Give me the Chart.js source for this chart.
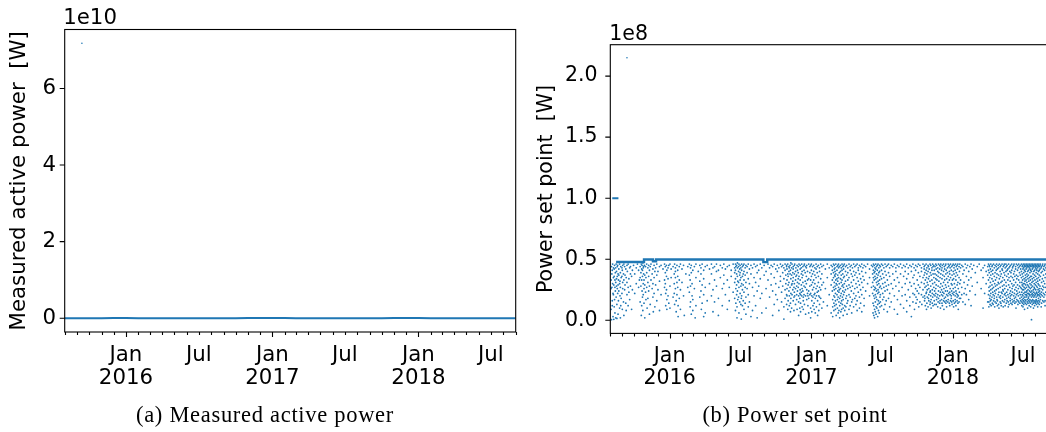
<!DOCTYPE html>
<html>
<head>
<meta charset="utf-8">
<script src="https://cdn.jsdelivr.net/npm/chart.js@4.4.1/dist/chart.umd.min.js"></script>
<style>
  html, body { margin: 0; padding: 0; background: #fff; }
  #stage { position: relative; width: 1046px; height: 432px; overflow: hidden; }
  #stage canvas { position: absolute; top: 0; }
  #cvA { left: 0; }
  #cvB { left: 530px; }
  .caption {
    position: absolute; top: 404px; width: 530px; text-align: center;
    font-family: "Liberation Serif", serif; font-size: 22.5px; line-height: 22.5px;
    letter-spacing: 0.7px; color: #000; white-space: nowrap;
  }
</style>
</head>
<body>
<div id="stage">
  <canvas id="cvA" width="530" height="432"></canvas>
  <canvas id="cvB" width="530" height="432"></canvas>
  <div class="caption" style="left:0">(a) Measured active power</div>
  <div class="caption" style="left:530px">(b) Power set point</div>
</div>
<script>
// Time axis: days since 1 Aug 2015, one tick per month start.
const monthStartDays = [0, 31, 61, 92, 122, 153, 184, 213, 244, 274, 305, 335, 366, 397, 427, 458, 488,
  519, 550, 578, 609, 639, 670, 700, 731, 762, 792, 823, 853, 884, 915, 943, 974, 1004, 1035, 1065, 1096, 1127];
const monthTickLabels = ['', '', '', '', '', 'Jan\n2016', '', '', '', '', '', 'Jul', '', '', '', '', '',
  'Jan\n2017', '', '', '', '', '', 'Jul', '', '', '', '', '', 'Jan\n2018', '', '', '', '', '', 'Jul', '', ''];
const majorTickLabels = ['Jan\n2016', 'Jan\n2017', 'Jan\n2018'];

// Measured active power: monthly level in MW, plus the corrupted spike in W.
const measuredMonthlyMW = [31, 28, 24, 30, 33, 35, 32, 29, 27, 22, 19, 21, 24, 26, 30, 34, 36,
  35, 33, 30, 27, 23, 20, 22, 25, 28, 31, 34, 36, 35, 32, 30, 26, 23, 21, 20, 24, 27];
const measuredSpikes = [[43, 7.18e10]];
const measuredTicks = [0, 2e10, 4e10, 6e10];

// Power set point: upper limit (held until the next change) and early 100 MW period, in MW.
const ceilingDays = [15, 87, 110, 118, 395, 405, 1127];
const ceilingMW = [47.8, 49.8, 48.4, 49.8, 47.6, 49.8, 49.8];
const earlyDays = [5, 21];
const earlyMW = [100, 100];
const setpointSpikes = [[43, 215]];
const setpointTicks = [0, 0.5e8, 1e8, 1.5e8, 2e8];

// Set point samples below the limit: [day, [MW, ...]]
const setpoints2015 = [
  [2,[26,9,33]],[3,[44,0.5]],[4,[38,27]],[5,[12,41,16]],[6,[46,30]],[7,[3,22]],[8,[35,21,43]],[9,[29,0.8]],
  [10,[42,11,36]],[11,[45,17]],[12,[33,27,6]],[13,[39,24]],[14,[43,2,31]],[15,[46,19]],[16,[34,28,40]],
  [17,[1.5,13]],[18,[44,36,26]],[19,[22,45]],[20,[38,5,29]],[21,[16,33]],[22,[42,24,37]],[24,[10,30,46]],
  [25,[32,20]],[26,[39,2,27]],[27,[12,44]],[28,[35,18]],[30,[43,22,36]],[31,[9,41]],[32,[26,45,31]],
  [34,[38,15]],[35,[4,46,33]],[37,[25,44]],[38,[37,29]],[40,[14,42]],[41,[35,8]],[43,[45,21,31]],[44,[40]],
  [46,[27,12,46]],[48,[34,23]],[50,[43,17]],[52,[44,28,38]],[55,[36,9]],[57,[41,25]],[60,[45]],[63,[38,22]],
  [67,[43,30]],[70,[46]],[73,[41,27]],[75,[33]],[77,[44,35,15]],[79,[39,28]],[80,[46,4]],[81,[33,12,42]],
  [82,[24,45]],[83,[36,19,41]],[84,[47,8]],[85,[30,43,21]],[86,[38,44]],[87,[33,26,14]],[88,[45]],
  [89,[37,29,2]],[91,[44,23]],[92,[35,17]],[94,[46,39,27]],[95,[10]],[97,[43,31,18]],[99,[45,36,24]],
  [101,[41,28,5]],[103,[44,13]],[105,[33,46]],[108,[38,26]],[110,[42,30,19]],[111,[7]],[113,[45,35,22]],
  [115,[40,11]],[117,[43,29]],[120,[46,37,16]],[123,[40,25]],[127,[44,32,8]],[131,[45,21]],[136,[42]],
  [140,[46,33,27]],[142,[44,30,39]],[143,[22,12]],[145,[45,36,25]],[146,[17,41,9]],[149,[43,34,20]],[151,[14,45]]
];
const setpoints2016 = [
  [154,[46,28,10]],[157,[42,35]],[162,[44,19]],[165,[38,30,22]],[166,[46,13]],[168,[43,35,26,40]],[170,[16,7]],
  [172,[45,31,21]],[174,[41,36,27]],[175,[12,3]],[178,[44,33,18]],[181,[46,25,9]],[185,[42,31]],[189,[45,20]],
  [191,[4]],[195,[38]],[200,[44,27]],[204,[46,37,23]],[206,[11,33]],[207,[43,28,15]],[209,[45,39,5]],
  [211,[20,30]],[213,[41,8,17]],[217,[44,26]],[219,[2]],[221,[46,35,12]],[227,[40]],[231,[45,32,19]],
  [234,[43,38,24]],[235,[9]],[237,[46,29,14]],[241,[41,34,21,3]],[245,[44,27,6]],[250,[45,16]],[256,[42,30]],
  [261,[46,38,20]],[265,[43,25,7]],[269,[44,33,15]],[274,[46,40,28]],[279,[41,18,4]],[284,[45,35]],
  [289,[43,26,12]],[293,[46,37,30]],[297,[42,21]],[302,[44,33,9]],[307,[45,27,16]],[312,[41,36]],[317,[46,23]],
  [321,[43,39,31,18]],[323,[46,41,34,8]],[324,[26,14,44]],[326,[45,38,29,21]],[327,[11,2]],[328,[47,43,36,24]],
  [329,[17,32]],[331,[44,40,31,19]],[332,[6,46,27]],[334,[37,15,42]],[335,[45,39,33,22]],[337,[43,35,28,13]],
  [338,[18,1]],[339,[46,41,30,20]],[341,[44,36,25,12]],[343,[45,38,29,16]],[345,[46,33,23,9,40]],
  [348,[43,37,27,14]],[350,[45,31,19,5]],[353,[44,39,26]],[356,[46,34,21,11]],[359,[42,30,15]],[363,[45,38,3]],
  [367,[43,27,8]],[371,[46,35,20]],[375,[44,31,12]],[379,[45,39,24,2]],[383,[41,28]],[387,[46,34,18]],
  [391,[43,22,6]],[397,[45,37]],[402,[40,26,10]],[407,[46,33]],[411,[43,19]],[415,[45,38,29]],[419,[44,24,4]],
  [423,[46,35,13]],[427,[42,30,21]],[431,[45,40,17]],[435,[43,27,8]],[439,[46,36,32]],[442,[44,23,15]],
  [445,[45,39,28]],[448,[43,34,11,1]],[451,[46,41,25,18]],[453,[37,30]],[455,[44,21,13,45]],[456,[42,33,26,20]],
  [458,[38,9,46]],[459,[36,29,16]],[461,[44,40,31,24]],[462,[20,12,43]],[464,[45,38,27]],[465,[14,7,41]],
  [466,[47,34,22,18]],[468,[43,37,29,10]],[469,[21,30,46]],[471,[39,32,25]],[472,[44,42,35,16]],[474,[27,19,8]],
  [475,[45,38,30,23]],[476,[20,46]],[478,[40,33,26,13]],[479,[36,43]],[481,[37,28,21,17]],[482,[9,45]],
  [483,[41,31,24]],[485,[44,39,34,27]],[486,[20,15,4]],[487,[46,36,30]],[489,[22,18,10]],[490,[45,42,33,25]],
  [491,[21,14,7]],[493,[43,38,29,23]],[494,[20,46]],[495,[40,35,26,11]],[497,[44,37,31,24]],[498,[19,16,9]],
  [500,[45,41,28,21]],[501,[13,46]],[503,[39,32,27]],[504,[20,5,44]],[506,[43,36,30]],[507,[25,17,45]],
  [509,[40,33,22]],[510,[20,12]],[512,[46,34,24,18,6]],[515,[44,39,28,21]],[517,[45,33,22,10,2]]
];
const setpoints2017 = [
  [519,[46,41,36,29]],[520,[20,16,7]],[522,[44,38,31,25]],[523,[19,12]],[525,[45,40,33,27]],[526,[21,14,9]],
  [528,[43,37,30,22]],[529,[18,6]],[531,[46,42,35,26]],[532,[20,11]],[534,[44,39,28,23]],[535,[16,4]],
  [537,[45,36,31,24]],[538,[20,8]],[540,[43,40,27,19,13]],[543,[46,34,25,18]],[546,[44,38,29,10]],
  [550,[45,31,15]],[555,[42,26]],[560,[46,35,12]],[565,[43,21]],[570,[45,38,29,6]],[573,[44,41,33,24]],
  [574,[17,11,3]],[576,[46,39,35,27]],[577,[14,8,20]],[578,[45,42,31,25]],[579,[19,12,37]],[580,[43,40,36,28]],
  [581,[22,16,9]],[582,[46,38,33,26]],[583,[13,4,30]],[585,[44,41,34,29,21]],[586,[17,10]],[587,[45,37,32,24]],
  [588,[19,6]],[589,[46,43,35,27]],[590,[23,15,8]],[591,[44,39,30,25]],[592,[18,12,2]],[594,[45,40,34,26,20]],
  [595,[14,7]],[596,[43,37,31,22]],[597,[16,9]],[598,[46,41,33,28]],[599,[19,13]],[600,[44,38,29,24]],
  [601,[17,10,4]],[602,[45,42,35,27,21]],[604,[46,36,30,23]],[605,[12,8]],[607,[44,40,32,25]],[608,[18,11]],
  [610,[45,37,28,20]],[611,[14,5]],[613,[43,39,33,26,16]],[616,[46,35,29,21,9]],[619,[44,41,27,19,12]],
  [622,[45,38,31,24]],[623,[15,6]],[625,[43,36,28,17]],[628,[46,40,33,22,11]],[631,[44,37,26,18]],
  [634,[45,39,30,20,13]],[637,[46,35,27,16,8]],[640,[43,41,32,23]],[643,[45,38,29,19,10]],[646,[44,34,25,14]],
  [649,[46,40,31,21,7]],[652,[43,36,27]],[655,[45,33,18,12]],[659,[44,39,24]],[664,[46,30]],[669,[42,35,20]],
  [674,[45,27]],[677,[44,38,31,22]],[678,[14,6]],[679,[46,41,35,28]],[680,[20,12,4]],[681,[45,39,33,25]],
  [682,[18,9,2]],[683,[43,40,36,27]],[684,[21,15,7]],[685,[46,42,34,26]],[686,[19,11,5]],[687,[44,38,31,24]],
  [688,[17,10]],[689,[45,41,35,29]],[690,[22,13,3]],[691,[46,37,32,25]],[692,[16,8]],[693,[43,39,30,23]],
  [694,[14,6]],[695,[45,40,33,27]],[696,[19,11]],[697,[44,36,28,21,15]],[700,[46,41,34,26,12]],
  [703,[45,38,30,22,17]],[706,[43,35,27,19,9]],[709,[46,40,31,24,13]],[712,[44,37,28,16]],[715,[45,33,25,7]],
  [718,[46,39,29,18]],[721,[43,36,22,11]],[725,[45,30,15]],[729,[44,38,26]],[733,[46,33,20,9]],[737,[43,40,28]],
  [741,[45,35,17,5]],[745,[44,31,24]],[749,[46,38,13]],[753,[43,27,20]],[757,[45,36,10]],[761,[44,40,30,21]],
  [765,[46,34,16,7]],[769,[43,38,25]],[773,[45,31,19,12]],[777,[44,40,28,3]],[781,[46,35,22,15]],
  [784,[43,37,30]],[785,[21,9]],[788,[45,41,26]],[789,[19,14]],[792,[44,33,24,17]],[795,[46,39,29]],
  [796,[22,11]],[799,[45,36,27,15]],[803,[43,40,31,21]],[804,[13]],[807,[46,35,25,19]],
  [810,[44,42,37,30]],[811,[20,16]],[812,[45,39,27,18]],[813,[33,12]],[815,[46,41,28,22]],[816,[35,9,23]],
  [817,[43,38,14]],[818,[31,25,19]],[820,[45,40,29,11]],[821,[34,18,44]],[822,[21,16,26]],[823,[42,36]],
  [825,[46,32,23,13]],[826,[39,24,15]],[827,[20,45,28]],[828,[37,17,10]],[830,[43,41,33]],[831,[22,14,25]],
  [832,[46,30,19]],[833,[38,12,44]],[835,[45,35,21,27]],[836,[16,41]],[837,[31,24,13]],[838,[44,38,20]],
  [840,[46,34,22,26]],[841,[42,13,29]],[842,[37,17,45]],[843,[19,33]],[845,[43,40,21,11]],[846,[28,15,36]],
  [847,[46,24,18]],[848,[39,32]],[850,[45,42,20,14]],[851,[27,35,16]],[852,[44,23,10]],[853,[38,30,46]],
  [855,[41,21,17,25]],[856,[34,14,43]],[857,[45,28,12]],[858,[37,20,23]],[860,[46,40,31,16]],[861,[22,26,9]],
  [862,[44,36,18]],[863,[42,33,15]],[865,[45,29,19,24]],[866,[38,14,46]],[867,[41,27,16]],[868,[34,21,11]],
  [870,[43,39,24]],[871,[20,15,31]],[872,[46,36,17]],[873,[44,28,22]],[875,[45,40,33,14]],[876,[23,12,38]],
  [877,[21,26,43]],[878,[35,16,46]],[880,[41,30,20,18]],[881,[44,24,15]],[882,[37,13,29]],[883,[45,22,33]]
];
const setpoints2018 = [
  [885,[46,40,16,26]],[886,[21,34,11]],[887,[43,38,23]],[888,[45,14,30]],[890,[41,20,27,17]],[891,[46,36,15]],
  [892,[33,24,12]],[893,[44,22,39]],[895,[45,29,16,19]],[896,[37,42,21]],[897,[31,14,46]],[898,[26,20,9]],
  [900,[44,35,15]],[901,[40,23,18]],[902,[46,30]],[904,[43,18,33]],[907,[45,27,21]],[910,[38,15,44]],
  [913,[41,31,22]],[916,[46,26,13]],[919,[43,36,21]],[922,[45,29]],[925,[40,17,33]],[928,[44,24]],
  [931,[46,35,12]],[934,[42,28]],[938,[45]],[942,[39,21]],[947,[44,31]],[952,[46]],[957,[41,26]],
  [962,[43,35,10]],[966,[45,22]],[970,[40,30]],[974,[44,37,15]],
  [976,[46,41,33,21]],[977,[27,15,11]],[978,[45,39,24]],[979,[35,18,44]],[980,[20,28,13]],[981,[42,31,16]],
  [982,[46,25,22,37]],[983,[40,17,12]],[985,[44,34,19,29]],[986,[26,14,45]],[987,[38,41,23]],[988,[21,13,32]],
  [989,[46,27,16]],[991,[43,36,20,18]],[992,[30,24,11]],[993,[45,39,15]],[994,[22,33,28]],[996,[44,41,14,25]],
  [997,[35,19,46]],[998,[29,17,38]],[999,[42,16,12]],[1001,[45,31,21,26]],[1002,[37,13,43]],[1003,[23,30,10]],
  [1004,[46,34,19]],[1006,[40,15,27,44]],[1007,[20,36,18]],[1008,[45,31,14]],[1009,[38,23,12]],
  [1011,[46,42,22,32]],[1012,[28,16,41]],[1013,[19,35,25]],[1014,[44,24,11]],[1016,[45,39,15,29]],
  [1017,[21,33,46]],[1018,[37,26,17]],[1019,[43,22,12]],[1021,[46,40,20,31]],[1022,[14,28,44]],
  [1023,[36,23,18]],[1024,[45,41,16]],[1026,[42,33,21,25]],[1027,[15,38,11]],[1028,[46,29,19]],
  [1029,[35,13,43]],[1031,[44,40,22,27]],[1032,[16,32,18]],[1033,[45,24,20]],[1034,[39,14,36]],
  [1036,[46,41,21,30]],[1037,[17,26,13]],[1038,[43,35,23]],[1039,[44,15,28]],[1041,[45,38,20,33]],
  [1042,[16,29,46]],[1043,[22,40,18]],[1044,[36,14,25]],[1046,[44,42,19,31]],[1047,[15,27,10]],
  [1048,[46,37,21]],[1049,[34,17,24]],[1051,[45,41,22,29]],[1052,[13,36,16]],[1053,[43,20,26]],
  [1054,[46,15,33]],[1056,[39,44,23,28]],[1057,[14,31,18]],[1058,[45,21,37]],[1059,[27,16,42]],
  [1061,[46,40,35,19,26]],[1062,[15,31,23,12]],[1063,[44,38,21,29,17]],[1064,[45,14,33,25]],
  [1065,[42,36,20,28,11]],[1066,[46,16,30,18]],[1067,[43,39,22,25,13]],[1068,[44,15,34,27]],
  [1069,[45,41,19,30,9]],[1070,[46,17,32,23]],[1071,[40,37,21,26,14]],[1072,[44,16,29,35]],
  [1073,[45,42,23,33,19]],[1074,[46,13,27,21]],[1075,[43,38,20,31,24]],[1076,[44,15,36,17]],
  [1077,[45,40,22,29,10]],[1078,[46,14,34,25]],[1079,[41,37,19,28,18]],[1080,[44,16,32,22]],
  [1081,[45,43,21,27,12]],[1082,[46,15,35,24]],[1083,[42,39,20,30,17]],[1084,[44,14,26,33]],
  [1085,[45,41,23,36,11]],[1086,[46,16,29,21]],[1087,[40,36,19,27,0.5]],[1088,[44,15,31,24]],
  [1089,[45,42,22,34,13]],[1090,[46,17,28,20]],[1091,[43,38,21,32,16]],[1092,[44,14,25,10]],
  [1093,[45,40,23,35,19]],[1094,[46,15,30,27]],[1095,[41,37,20,26,12]],[1096,[44,16,33,22]],
  [1097,[45,43,21,29,14]],[1098,[46,15,36,25]],[1099,[42,39,19,31,17]],[1100,[44,13,28,23]],
  [1101,[45,41,22,34,16]],[1102,[46,15,27,20]],[1103,[43,38,21,32,11]],[1104,[44,14,25,30]],
  [1105,[45,40,23,35,18]],[1106,[46,16,29,21]],[1107,[41,37,20,26,13]],[1108,[44,15,33,24]],
  [1109,[45,42,22,28]],[1110,[46,17,36,19]],[1112,[43,39,21,26,11]],[1113,[44,14,31,23]],[1115,[45,40,20,34]],
  [1116,[46,16,28,25]],[1118,[42,37,22,32]],[1119,[44,15,27,19]],[1121,[45,41,21,30]],[1122,[46,16,35,12]],
  [1124,[43,38,23,27]],[1126,[44,15,33,20]]
];

const BLUE = '#1f77b4';
const MW = 1e6;

Chart.defaults.font.family = '"DejaVu Sans", sans-serif';
Chart.defaults.color = '#000';

const toPoints = (days, vals, k) => days.map((d, i) => ({ x: d, y: vals[i] * k }));
const fromGroups = groups => groups.flatMap(([d, vals]) => vals.map(v => ({ x: d, y: v * MW })));

// Frame, month ticks, value ticks and the exponent label above the y axis.
const axisDecor = {
  id: 'axisDecor',
  afterDraw(chart, args, o) {
    const { ctx, chartArea: a, scales: { x, y } } = chart;
    ctx.save();
    ctx.strokeStyle = '#000';
    ctx.lineWidth = 1.1;
    ctx.strokeRect(a.left, a.top, a.right - a.left, a.bottom - a.top);
    ctx.beginPath();
    monthStartDays.forEach((d, i) => {
      const px = Math.round(x.getPixelForValue(d)) + 0.5;
      const len = majorTickLabels.includes(monthTickLabels[i]) ? o.major : o.minor;
      ctx.moveTo(px, a.bottom);
      ctx.lineTo(px, a.bottom + len);
    });
    y.ticks.forEach(t => {
      const py = y.getPixelForValue(t.value);
      ctx.moveTo(a.left - o.major, py);
      ctx.lineTo(a.left, py);
    });
    ctx.stroke();
    ctx.fillStyle = '#000';
    ctx.font = o.fontSize + 'px "DejaVu Sans"';
    ctx.textBaseline = 'alphabetic';
    ctx.textAlign = 'left';
    ctx.fillText(o.exponent, a.left + o.expDx, a.top + o.expDy);
    ctx.restore();
  }
};

function buildChart(canvas, c) {
  return new Chart(canvas, {
    type: 'scatter',
    data: { datasets: c.datasets },
    options: {
      responsive: false,
      animation: false,
      events: [],
      layout: { padding: { top: c.top, right: c.right, left: 0, bottom: 0 } },
      plugins: {
        legend: { display: false },
        tooltip: { enabled: false },
        axisDecor: { major: 5, minor: 3, fontSize: c.fontSize, exponent: c.exponent, expDx: c.expDx, expDy: c.expDy }
      },
      scales: {
        x: {
          type: 'linear', min: 0, max: 1127,
          grid: { display: false, drawTicks: false },
          border: { display: false },
          afterBuildTicks: s => { s.ticks = monthStartDays.map(v => ({ value: v })); },
          afterFit: s => { s.height = 432 - c.bottom; },
          ticks: {
            autoSkip: false, maxRotation: 0, minRotation: 0, padding: c.xPad,
            font: { size: c.fontSize, lineHeight: c.xLine / c.fontSize },
            callback: (v, i) => {
              const l = monthTickLabels[i] || '';
              return l.includes('\n') ? l.split('\n') : l;
            }
          }
        },
        y: {
          type: 'linear', min: c.yMin, max: c.yMax,
          grid: { display: false, drawTicks: false },
          border: { display: false },
          afterBuildTicks: s => { s.ticks = c.yTicks.map(v => ({ value: v })); },
          afterFit: s => { s.width = c.yWidth; },
          ticks: {
            padding: c.yPad,
            font: { size: c.fontSize },
            callback: v => (v / c.scale).toFixed(c.decimals)
          },
          title: {
            display: true, text: c.yTitle,
            font: { size: c.fontSize },
            padding: { top: c.titlePad, bottom: 0 }
          }
        }
      }
    },
    plugins: [axisDecor]
  });
}

// (a) Measured active power
buildChart(document.getElementById('cvA'), {
  top: 29.5, bottom: 332, right: 530 - 515.7, yWidth: 64.7,
  yMin: -0.359e10, yMax: 7.539e10, yTicks: measuredTicks, scale: 1e10, decimals: 0,
  fontSize: 21.3, xLine: 23.3, xPad: 11.8, yPad: 8.7, titlePad: 6.4,
  yTitle: 'Measured active power  [W]', exponent: '1e10', expDx: -1.5, expDy: -5.5,
  datasets: [
    { data: toPoints(monthStartDays, measuredMonthlyMW, MW), showLine: true, borderColor: BLUE,
      borderWidth: 2, pointRadius: 0 },
    { data: measuredSpikes.map(([d, v]) => ({ x: d, y: v })), backgroundColor: BLUE,
      borderWidth: 0, pointRadius: 0.8 }
  ]
});

// (b) Power set point
buildChart(document.getElementById('cvB'), {
  top: 44.7, bottom: 333.4, right: 13, yWidth: 80.3,
  yMin: -0.1075e8, yMax: 2.2575e8, yTicks: setpointTicks, scale: 1e8, decimals: 1,
  fontSize: 20.5, xLine: 21.8, xPad: 12.8, yPad: 12.8, titlePad: 4,
  yTitle: 'Power set point  [W]', exponent: '1e8', expDx: -1, expDy: -4.7,
  datasets: [
    { data: [].concat(fromGroups(setpoints2015), fromGroups(setpoints2016),
                      fromGroups(setpoints2017), fromGroups(setpoints2018)),
      backgroundColor: BLUE, borderWidth: 0, pointRadius: 0.9 },
    { data: toPoints(ceilingDays, ceilingMW, MW), showLine: true, stepped: 'before',
      borderColor: BLUE, borderWidth: 2.4, pointRadius: 0 },
    { data: toPoints(earlyDays, earlyMW, MW), showLine: true,
      borderColor: BLUE, borderWidth: 2, pointRadius: 0 },
    { data: setpointSpikes.map(([d, v]) => ({ x: d, y: v * MW })), backgroundColor: BLUE,
      borderWidth: 0, pointRadius: 0.8 }
  ]
});
</script>
</body>
</html>
